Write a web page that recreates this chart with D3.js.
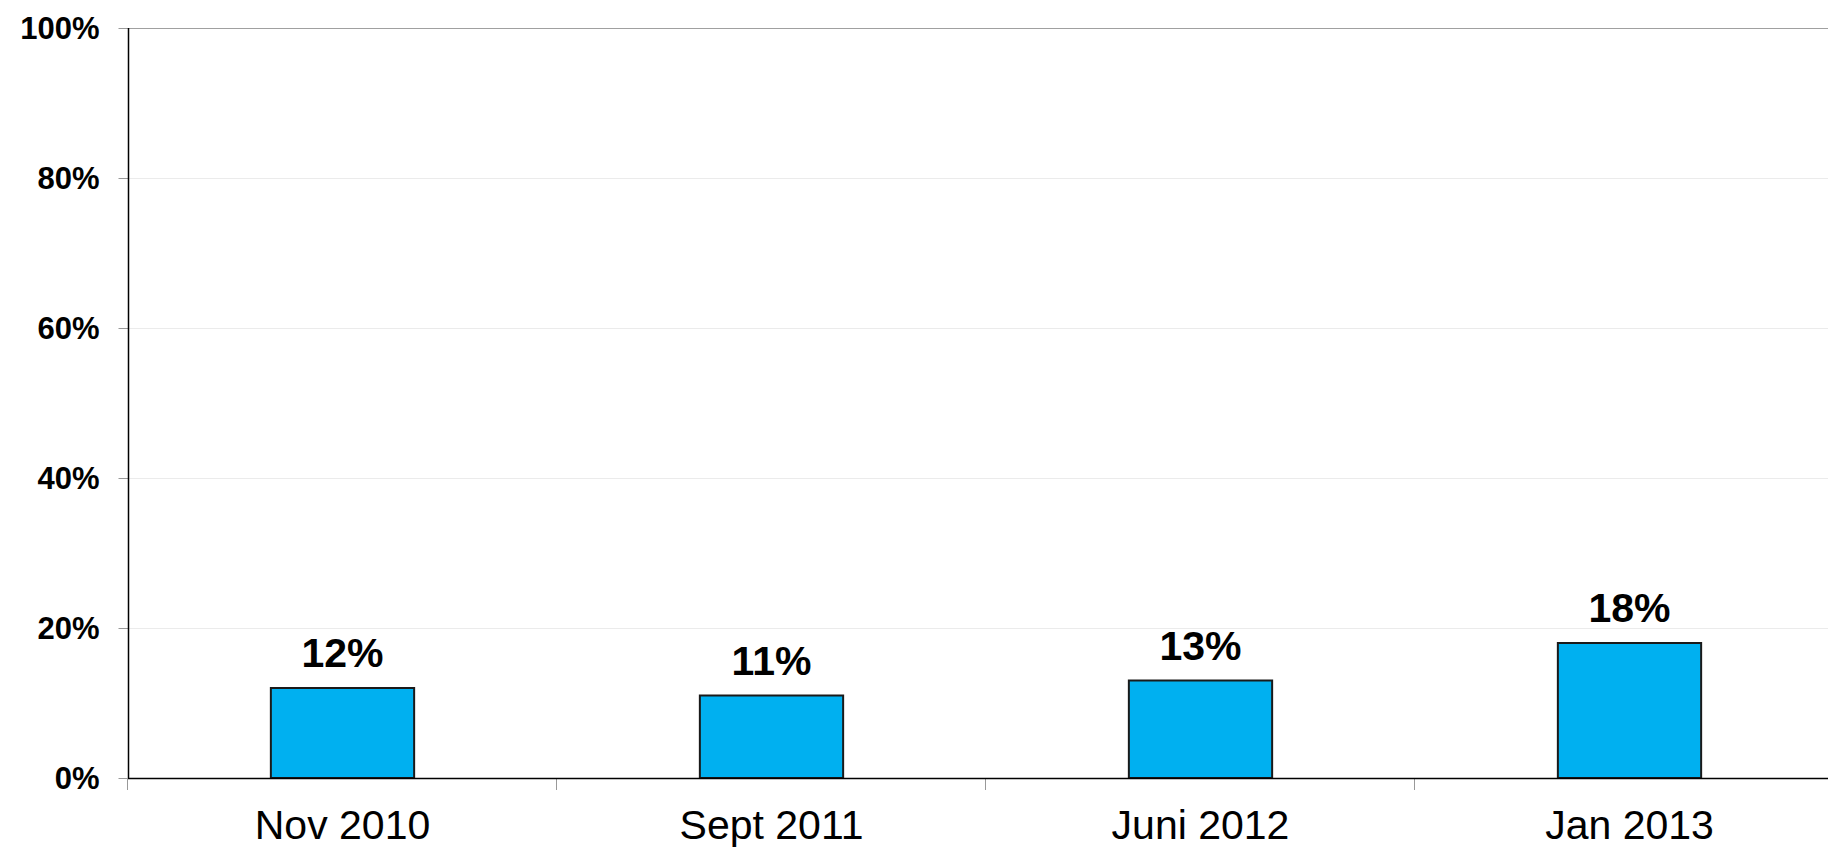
<!DOCTYPE html>
<html>
<head>
<meta charset="utf-8">
<script src="https://cdn.jsdelivr.net/npm/d3@7"></script>
<style>
  body { margin: 0; background: #fff; overflow: hidden; }
  svg { display: block; font-family: Arial, "Liberation Sans", sans-serif; }
</style>
</head>
<body>
<script>
// chart data
var categories = ["Nov 2010", "Sept 2011", "Juni 2012", "Jan 2013"];
var values = [12, 11, 13, 18];
var yTicks = [0, 20, 40, 60, 80, 100];

var width = 1828,
    height = 849;

// plot area runs a little past the right edge, like the original
var plotLeft = 128, plotRight = 1844, plotTop = 28, plotBottom = 778;

var svg = d3.select("body").append("svg")
    .attr("width", width)
    .attr("height", height);

var x = d3.scaleBand()
    .domain(categories)
    .range([plotLeft, plotRight])
    .paddingInner(0)
    .paddingOuter(0);

var y = d3.scaleLinear()
    .domain([0, 100])
    .range([plotBottom, plotTop]);

var barW = x.bandwidth() * 0.334;

// gridlines
svg.append("g")
  .selectAll("line")
  .data(yTicks.filter(function(d) { return d > 0; }))
  .enter().append("line")
    .attr("x1", plotLeft).attr("x2", width)
    .attr("y1", function(d) { return y(d) + 0.5; })
    .attr("y2", function(d) { return y(d) + 0.5; })
    .attr("stroke", function(d) { return d == 100 ? "#a0a0a0" : "#ebebeb"; })
    .attr("stroke-width", 1);

// y axis
var yAxis = svg.append("g")
    .attr("transform", "translate(" + (plotLeft + 0.5) + ",0)")
    .call(d3.axisLeft(y).tickValues(yTicks).tickSize(10).tickPadding(19)
      .tickFormat(function(d) { return d + "%"; }));
yAxis.select(".domain").remove();
yAxis.selectAll(".tick line").attr("stroke", "#999");
yAxis.selectAll("text")
    .style("font-size", "31px")
    .style("font-weight", "bold")
    .style("font-family", "Arial, 'Liberation Sans', sans-serif")
    .attr("fill", "#000")
    .attr("dy", "0.35em");

svg.append("line")
    .attr("x1", plotLeft + 0.5).attr("x2", plotLeft + 0.5)
    .attr("y1", plotTop).attr("y2", plotBottom)
    .attr("stroke", "#000").attr("stroke-width", 1.5);

// category ticks at band edges
svg.append("g")
  .selectAll("line")
  .data(categories)
  .enter().append("line")
    .attr("x1", function(d) { return x(d) - 0.5; })
    .attr("x2", function(d) { return x(d) - 0.5; })
    .attr("y1", plotBottom).attr("y2", plotBottom + 12)
    .attr("stroke", "#999");

// bars
svg.append("g")
  .selectAll("rect")
  .data(values)
  .enter().append("rect")
    .attr("x", function(d, i) { return x(categories[i]) + x.bandwidth() / 2 - barW / 2; })
    .attr("y", function(d) { return y(d); })
    .attr("width", barW)
    .attr("height", function(d) { return y(0) - y(d); })
    .attr("fill", "#00b0f0")
    .attr("stroke", "#1a1a1a")
    .attr("stroke-width", 2);

// x axis line
svg.append("line")
    .attr("x1", plotLeft).attr("x2", width)
    .attr("y1", plotBottom + 0.5).attr("y2", plotBottom + 0.5)
    .attr("stroke", "#000").attr("stroke-width", 1.5);

// value labels
svg.append("g")
  .selectAll("text")
  .data(values)
  .enter().append("text")
    .attr("x", function(d, i) { return x(categories[i]) + x.bandwidth() / 2; })
    .attr("y", function(d) { return y(d) - 21; })
    .attr("text-anchor", "middle")
    .style("font-size", "41px")
    .style("font-weight", "bold")
    .text(function(d) { return d + "%"; });

// category labels
svg.append("g")
  .selectAll("text")
  .data(categories)
  .enter().append("text")
    .attr("x", function(d) { return x(d) + x.bandwidth() / 2; })
    .attr("y", 839)
    .attr("text-anchor", "middle")
    .style("font-size", "41px")
    .text(function(d) { return d; });
</script>
</body>
</html>
